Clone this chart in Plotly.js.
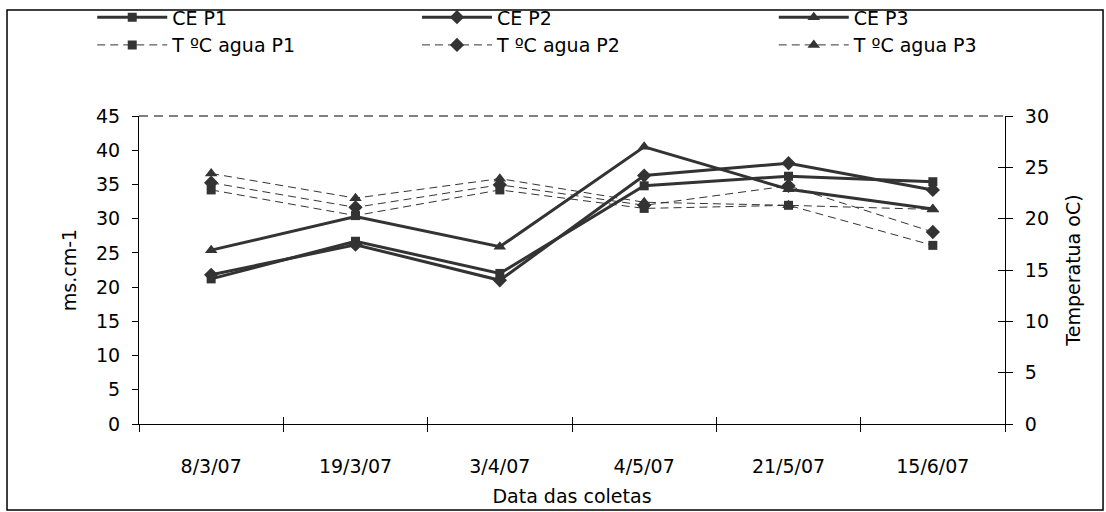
<!DOCTYPE html>
<html>
<head>
<meta charset="utf-8">
<script src="https://cdn.plot.ly/plotly-3.0.1.min.js"></script>
<style>html,body{margin:0;padding:0;background:#fff}#chart{width:1106px;height:512px}</style>
</head>
<body>
<div id="chart"></div>
<script>
const dates = ["8/3/07", "19/3/07", "3/4/07", "4/5/07", "21/5/07", "15/6/07"];
const ceP1 = [21.2, 26.7, 22.0, 34.8, 36.2, 35.4];
const ceP2 = [21.8, 26.2, 21.0, 36.3, 38.1, 34.2];
const ceP3 = [25.4, 30.3, 25.9, 40.5, 34.3, 31.4];
const tP1 = [22.8, 20.3, 22.8, 21.0, 21.3, 17.4];
const tP2 = [23.5, 21.1, 23.3, 21.3, 23.2, 18.7];
const tP3 = [24.4, 22.0, 23.9, 21.6, 21.3, 20.9];

const C = '#333333';
const FONT = '"DejaVu Sans", sans-serif';
const FS = 19;

function ce(name, y, sym, size, lg) {
  return {x: dates, y: y, name: name, type: 'scatter', mode: 'lines+markers',
    line: {color: C, width: 3}, marker: {symbol: sym, size: size, color: C},
    legend: lg, legendgroup: name, xaxis: 'x', yaxis: 'y'};
}
function tw(name, y, sym, size, lg) {
  return {x: dates, y: y, name: name, type: 'scatter', mode: 'lines+markers',
    line: {color: C, width: 1, dash: '8px,5px'}, marker: {symbol: sym, size: size, color: C},
    legend: lg, legendgroup: name, xaxis: 'x', yaxis: 'y2'};
}

const data = [
  ce('CE P1', ceP1, 'square', 9, 'legend'),
  tw('T ºC agua P1', tP1, 'square', 9, 'legend'),
  ce('CE P2', ceP2, 'diamond', 11, 'legend2'),
  tw('T ºC agua P2', tP2, 'diamond', 11, 'legend2'),
  ce('CE P3', ceP3, 'triangle-up', 11, 'legend3'),
  tw('T ºC agua P3', tP3, 'triangle-up', 11, 'legend3'),
  {x: [], y: [], type: 'scatter', mode: 'markers', xaxis: 'x2', yaxis: 'y3',
    showlegend: false, hoverinfo: 'skip'}
];

const legBase = {orientation: 'v', yanchor: 'top', y: 1.382, xanchor: 'left',
  font: {family: FONT, size: FS, color: '#000'}, bgcolor: 'rgba(0,0,0,0)',
  tracegroupgap: 0, traceorder: 'grouped', itemwidth: 70};

const boundaries = dates.map((d, i) => i - 0.5).concat([dates.length - 0.5]);
const tf = {family: FONT, size: FS, color: '#000'};

const layout = {
  width: 1106, height: 512,
  margin: {l: 139, r: 101, t: 116, b: 88, autoexpand: false},
  paper_bgcolor: '#fff', plot_bgcolor: '#fff',
  font: tf,
  showlegend: true,
  legend: Object.assign({}, legBase, {x: -0.054}),
  legend2: Object.assign({}, legBase, {x: 0.321}),
  legend3: Object.assign({}, legBase, {x: 0.733}),
  xaxis: {type: 'category', categoryorder: 'array', categoryarray: dates,
    range: [-0.5, dates.length - 0.5], tickson: 'boundaries',
    ticks: 'outside', ticklen: 7, tickcolor: '#000', tickwidth: 1,
    showline: true, linecolor: '#000', linewidth: 1, showgrid: false, zeroline: false,
    tickfont: tf, ticklabelstandoff: 25,
    title: {text: 'Data das coletas', font: tf, standoff: 13}},
  xaxis2: {overlaying: 'x', anchor: 'y', side: 'bottom', type: 'linear',
    range: [-0.5, dates.length - 0.5], tickmode: 'array', tickvals: boundaries,
    ticks: 'inside', ticklen: 7, tickcolor: '#000', tickwidth: 1,
    showticklabels: false, showline: false, showgrid: false, zeroline: false},
  yaxis: {range: [0, 45], dtick: 5, tick0: 0, ticks: 'outside', ticklen: 6, tickcolor: '#000',
    showline: true, linecolor: '#000', linewidth: 1, showgrid: false, zeroline: false,
    tickfont: tf, ticklabelstandoff: 8,
    title: {text: 'ms.cm-1', font: tf, standoff: 14}},
  yaxis2: {overlaying: 'y', side: 'right', anchor: 'x', range: [0, 30], dtick: 5, tick0: 0,
    ticks: 'outside', ticklen: 7, tickcolor: '#000',
    showline: true, linecolor: '#000', linewidth: 1, showgrid: false, zeroline: false,
    tickfont: tf, ticklabelstandoff: 8,
    title: {text: 'Temperatua oC)', font: tf, standoff: 18}},
  yaxis3: {overlaying: 'y', side: 'right', anchor: 'x', range: [0, 30], dtick: 5, tick0: 0,
    ticks: 'inside', ticklen: 7, tickcolor: '#000', showticklabels: false,
    showline: false, showgrid: false, zeroline: false},
  shapes: [
    {type: 'line', xref: 'paper', yref: 'paper', x0: 0, x1: 1, y0: 1, y1: 1,
      line: {color: '#000', width: 1, dash: '9px,6px'}},
    {type: 'rect', xref: 'paper', yref: 'paper', x0: -0.1524, x1: 1.1132, y0: -0.279, y1: 1.344,
      line: {color: '#000', width: 1.5}, fillcolor: 'rgba(0,0,0,0)', layer: 'below'}
  ]
};

Plotly.newPlot('chart', data, layout, {staticPlot: true, displayModeBar: false});
</script>
</body>
</html>
